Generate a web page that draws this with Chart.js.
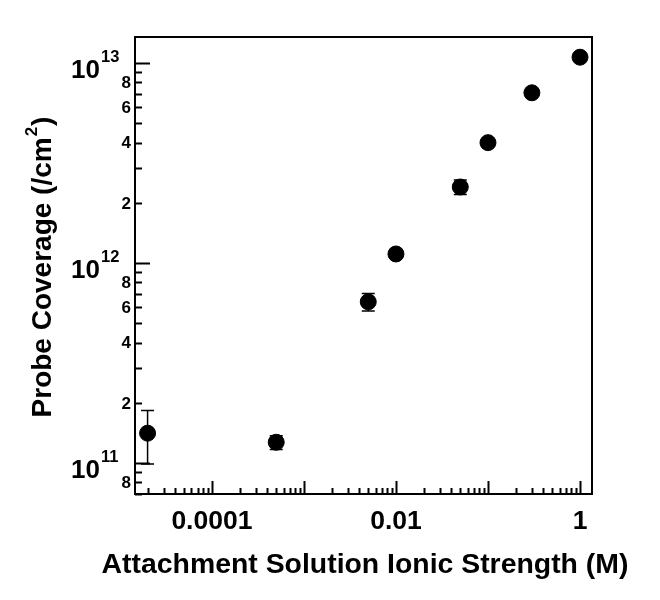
<!DOCTYPE html>
<html>
<head>
<meta charset="utf-8">
<script src="https://cdn.jsdelivr.net/npm/chart.js@4.4.0/dist/chart.umd.min.js"></script>
<style>
  html, body { margin: 0; padding: 0; background: #fff; }
  canvas { display: block; }
</style>
</head>
<body>
<canvas id="chart" width="660" height="600"></canvas>
<script>
// ── Data ───────────────────────────────────────────────────────
const ionicStrength = [2e-5, 5e-4, 0.005, 0.01, 0.05, 0.1, 0.3, 1];
const coverage      = [1.41e11, 1.27e11, 6.4e11, 1.11e12, 2.4e12, 4.0e12, 7.1e12, 1.07e13];
const coverageErr   = [0.42e11, 0.1e11, 0.65e11, 0.04e12, 0.2e12, 0.1e12, 0.15e12, 0.2e12];

// ── Tick labels ────────────────────────────────────────────────
const xLabelValues  = [1e-4, 1e-2, 1];
const xLabels       = ['0.0001', '0.01', '1'];
const yMajorValues  = [1e11, 1e12, 1e13];
const yMajorExps    = ['11', '12', '13'];
const yMinorLabeled = [2, 4, 6, 8];

const FONT = '"Liberation Sans", Arial, sans-serif';

// all 1..9 x 10^n values inside [min, max]
function logTicks(min, max) {
    const out = [];
    for (let e = Math.floor(Math.log10(min)); e <= Math.ceil(Math.log10(max)); e++) {
        for (let m = 1; m <= 9; m++) {
            const v = m * Math.pow(10, e);
            if (v >= min && v <= max) out.push({ v, m });
        }
    }
    return out;
}

// ── Error bars (drawn under the markers) ───────────────────────
const errorBars = {
    id: 'errorBars',
    beforeDatasetsDraw(chart) {
        const { ctx, scales: { x, y } } = chart;
        ctx.save();
        ctx.strokeStyle = '#000';
        ctx.lineWidth = 1.5;
        ionicStrength.forEach((xv, i) => {
            const px = x.getPixelForValue(xv);
            const top = y.getPixelForValue(coverage[i] + coverageErr[i]);
            const bot = y.getPixelForValue(coverage[i] - coverageErr[i]);
            ctx.beginPath();
            ctx.moveTo(px, top); ctx.lineTo(px, bot);
            ctx.moveTo(px - 6.5, top); ctx.lineTo(px + 6.5, top);
            ctx.moveTo(px - 6.5, bot); ctx.lineTo(px + 6.5, bot);
            ctx.stroke();
        });
        ctx.restore();
    },
};

// ── Frame, inward ticks, labels, titles ────────────────────────
const frameAxes = {
    id: 'frameAxes',
    afterDraw(chart) {
        const { ctx, chartArea: a, scales: { x, y } } = chart;
        ctx.save();
        ctx.strokeStyle = '#000';
        ctx.fillStyle = '#000';

        ctx.lineWidth = 2;
        ctx.strokeRect(a.left, a.top, a.right - a.left, a.bottom - a.top);

        // x ticks, pointing up from the bottom edge
        ctx.beginPath();
        logTicks(x.min, x.max).forEach(t => {
            const px = Math.round(x.getPixelForValue(t.v)) + 0.5;
            ctx.moveTo(px, a.bottom);
            ctx.lineTo(px, a.bottom - (t.m === 1 ? 13 : 6));
        });
        ctx.stroke();

        // y ticks, pointing right from the left edge
        ctx.beginPath();
        logTicks(y.min, y.max).forEach(t => {
            const py = Math.round(y.getPixelForValue(t.v)) + 0.5;
            ctx.moveTo(a.left, py);
            ctx.lineTo(a.left + (t.m === 1 ? 15 : 7), py);
        });
        ctx.stroke();

        // x tick labels
        ctx.font = `bold 26.5px ${FONT}`;
        ctx.textAlign = 'center';
        ctx.textBaseline = 'middle';
        xLabelValues.forEach((v, i) => {
            ctx.fillText(xLabels[i], x.getPixelForValue(v), 522);
        });

        // y major labels 10^n
        yMajorValues.forEach((v, i) => {
            const py = y.getPixelForValue(v);
            ctx.font = `bold 26px ${FONT}`;
            ctx.textAlign = 'right';
            ctx.fillText('10', 100, py + 8);
            ctx.font = `bold 16.5px ${FONT}`;
            ctx.textAlign = 'left';
            ctx.fillText(yMajorExps[i], 101, py - 6);
        });

        // y minor labels 2,4,6,8 in each decade
        ctx.font = `bold 17px ${FONT}`;
        ctx.textAlign = 'right';
        logTicks(y.min, y.max).forEach(t => {
            if (yMinorLabeled.includes(t.m)) {
                ctx.fillText(String(t.m), 131, y.getPixelForValue(t.v) + 1);
            }
        });

        // x title
        ctx.font = `bold 28.4px ${FONT}`;
        ctx.textAlign = 'center';
        ctx.fillText('Attachment Solution Ionic Strength (M)', 365, 565);

        // y title with superscript
        ctx.translate(43, 267);
        ctx.rotate(-Math.PI / 2);
        ctx.textAlign = 'left';
        const main = 'Probe Coverage (/cm';
        ctx.font = `bold 28px ${FONT}`;
        const w1 = ctx.measureText(main).width;
        const w3 = ctx.measureText(')').width;
        ctx.font = `bold 17px ${FONT}`;
        const w2 = ctx.measureText('2').width;
        let sx = -(w1 + w2 + w3 + 2) / 2;
        ctx.font = `bold 28px ${FONT}`;
        ctx.fillText(main, sx, 0);
        ctx.font = `bold 17px ${FONT}`;
        ctx.fillText('2', sx + w1 + 1, -11);
        ctx.font = `bold 28px ${FONT}`;
        ctx.fillText(')', sx + w1 + w2 + 2, 0);

        ctx.restore();
    },
};

new Chart(document.getElementById('chart').getContext('2d'), {
    type: 'scatter',
    data: {
        datasets: [{
            data: ionicStrength.map((v, i) => ({ x: v, y: coverage[i] })),
            backgroundColor: '#000',
            borderColor: '#000',
            pointRadius: 8,
            pointHoverRadius: 8,
            pointStyle: 'circle',
        }],
    },
    options: {
        responsive: false,
        animation: false,
        devicePixelRatio: 1,
        layout: { padding: { left: 135, top: 37, right: 68, bottom: 106 } },
        plugins: { legend: { display: false }, tooltip: { enabled: false } },
        scales: {
            x: { type: 'logarithmic', min: 1.46e-5, max: 1.35, display: false },
            y: { type: 'logarithmic', min: 7e10, max: 1.35e13, display: false },
        },
    },
    plugins: [errorBars, frameAxes],
});
</script>
</body>
</html>
